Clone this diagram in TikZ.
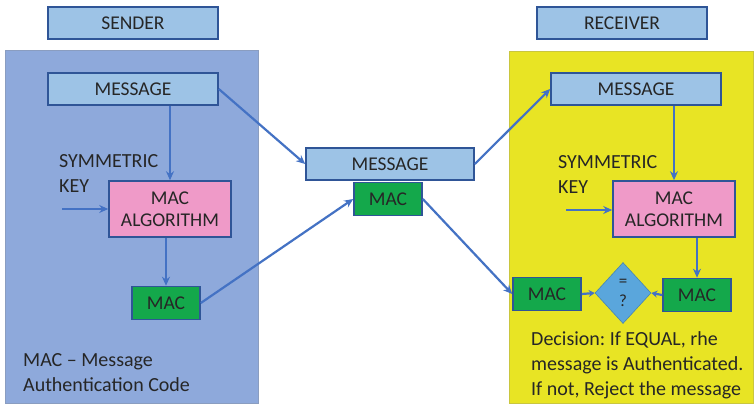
\documentclass[tikz,border=0pt]{standalone}
\usepackage{fontspec}
\setmainfont{Carlito}
\usetikzlibrary{shapes.geometric,arrows.meta}
\definecolor{panelblue}{HTML}{8EA9DB}
\definecolor{lightblue}{HTML}{9DC3E6}
\definecolor{edgeblue}{HTML}{2F5597}
\definecolor{panelyellow}{HTML}{E8E424}
\definecolor{pinkbox}{HTML}{EF9AC8}
\definecolor{greenbox}{HTML}{14A84B}
\definecolor{diamondblue}{HTML}{5AA6DC}
\definecolor{arrowblue}{HTML}{4472C4}
\definecolor{inktext}{HTML}{262626}
\frenchspacing
\tikzset{
  box/.style={draw=edgeblue, line width=1.6pt, inner sep=0pt, align=center,
    text=inktext, font=\fontsize{19.5}{22}\selectfont},
  msgbox/.style={box, fill=lightblue, minimum width=170pt, minimum height=32pt},
  algbox/.style={box, fill=pinkbox, minimum width=122pt, minimum height=56pt},
  macbox/.style={box, fill=greenbox, minimum width=68pt, minimum height=33pt},
  label/.style={text=inktext, font=\fontsize{20}{25}\selectfont, align=left, inner sep=0pt, anchor=west},
  conn/.style={draw=arrowblue, line width=2.2pt, -{Stealth[length=9pt,width=8pt]}}
}
\begin{document}
\begin{tikzpicture}[x=1pt,y=-1pt]
\useasboundingbox (0,0) rectangle (754,406);
\fill[white] (0,0) rectangle (754,406);

% panels
\filldraw[fill=panelblue, draw=panelblue!70!gray, line width=1pt] (5,51) rectangle (258,403);
\filldraw[fill=panelyellow, draw=panelyellow!70!gray, line width=1pt] (509,52) rectangle (753,403);

% titles
\node[msgbox] (sender) at (133,23) {SENDER};
\node[msgbox] (receiver) at (622,23) {RECEIVER};

% sender side
\node[msgbox] (smsg) at (133,89) {MESSAGE};
\node[algbox] (salg) at (170,209) {MAC\\ALGORITHM};
\node[macbox] (smac) at (166,303) {MAC};
\node[label] (skey) at (59,174) {SYMMETRIC\\KEY};
\coordinate (skeyin) at (62,209);
\node[label] (snote) at (23,373) {MAC -- Message\\Authentication Code};

% channel
\node[msgbox, minimum width=168pt] (cmsg) at (390,164) {MESSAGE};
\node[macbox] (cmac) at (388,199) {MAC};

% receiver side
\node[msgbox] (rmsg) at (636,89) {MESSAGE};
\node[algbox] (ralg) at (674,209) {MAC\\ALGORITHM};
\node[label] (rkey) at (558,175) {SYMMETRIC\\KEY};
\coordinate (rkeyin) at (566,210);
\node[macbox] (rmacin) at (547,294) {MAC};
\node[macbox] (rmacout) at (697,295) {MAC};
\node[draw=diamondblue!80!black, line width=0.6pt, fill=diamondblue, diamond,
  minimum width=56pt, minimum height=61pt, inner sep=0pt, align=center,
  text=inktext, font=\fontsize{17}{20}\selectfont] (cmp) at (623,293) {=\\?};
\node[label] (rnote) at (531,365) {Decision: If EQUAL, rhe\\message is Authenticated.\\If not, Reject the message};

% connectors
\draw[conn] (smsg.south -| salg.north) -- (salg.north);
\draw[conn] (skeyin) -- (salg.west |- skeyin);
\draw[conn] (salg.south -| smac.north) -- (smac.north);
\draw[conn] (smsg.east) -- (cmsg.west);
\draw[conn] (smac.east) -- (cmac.west);
\draw[conn] (cmsg.east) -- (rmsg.west);
\draw[conn] (cmac.east) -- (rmacin.west);
\draw[conn] (rmsg.south -| ralg.north) -- (ralg.north);
\draw[conn] (rkeyin) -- (ralg.west |- rkeyin);
\draw[conn] (ralg.south -| rmacout.north) -- (rmacout.north);
\draw[conn, -{Stealth[length=6pt,width=7pt]}] (rmacin.east) -- (cmp.west);
\draw[conn, -{Stealth[length=6pt,width=7pt]}] (rmacout.west) -- (cmp.east);
\end{tikzpicture}
\end{document}
